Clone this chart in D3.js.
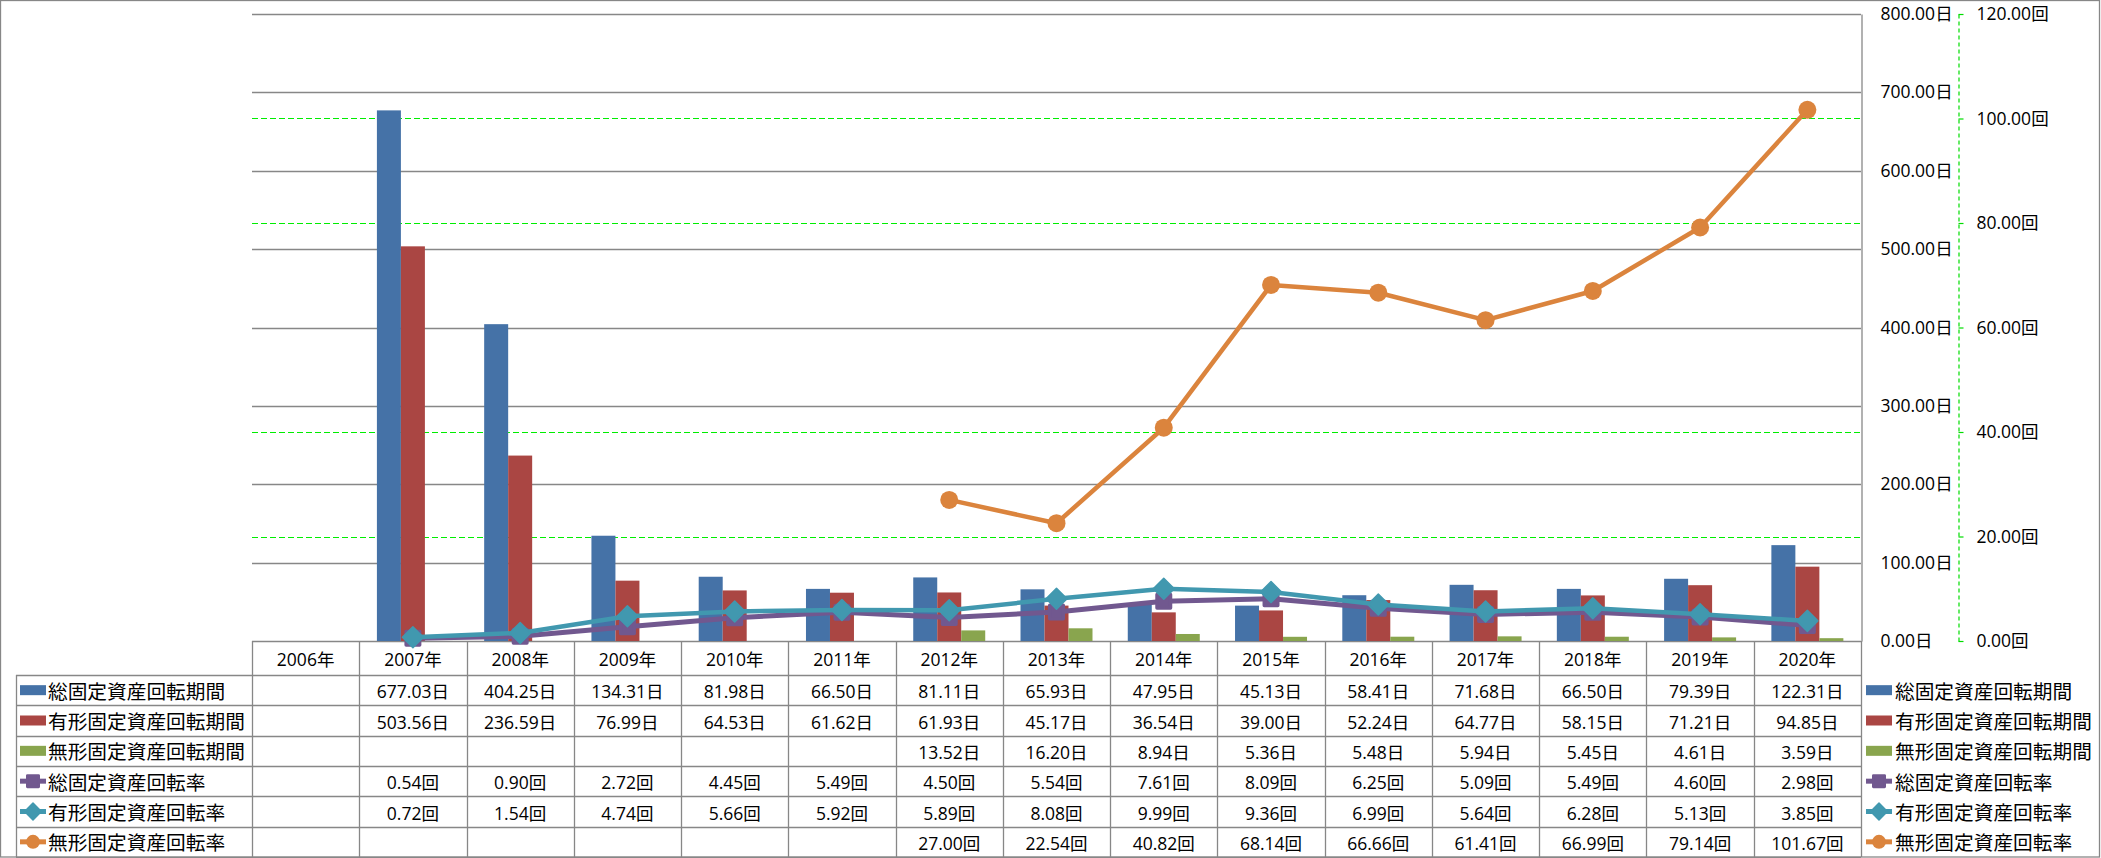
<!DOCTYPE html>
<html><head><meta charset="utf-8">
<script src="https://cdn.jsdelivr.net/npm/d3@7"></script>
<style>
body{margin:0;background:#fff;}
svg{display:block;}
text{font-family:"Open Sans","Noto Sans CJK JP",sans-serif;fill:#000;}
.cjk{font-family:"Noto Sans CJK JP",sans-serif;}
</style></head><body>
<svg id="chart" width="2101" height="858"></svg>
<script>
// ---------- data ----------
const years = ["2006年","2007年","2008年","2009年","2010年","2011年","2012年","2013年","2014年","2015年","2016年","2017年","2018年","2019年","2020年"];
const seriesNames = ["総固定資産回転期間","有形固定資産回転期間","無形固定資産回転期間","総固定資産回転率","有形固定資産回転率","無形固定資産回転率"];
const totalPeriod    = [null,677.03,404.25,134.31,81.98,66.50,81.11,65.93,47.95,45.13,58.41,71.68,66.50,79.39,122.31];
const tangiblePeriod = [null,503.56,236.59,76.99,64.53,61.62,61.93,45.17,36.54,39.00,52.24,64.77,58.15,71.21,94.85];
const intangiblePeriod=[null,null,null,null,null,null,13.52,16.20,8.94,5.36,5.48,5.94,5.45,4.61,3.59];
const totalRate      = [null,0.54,0.90,2.72,4.45,5.49,4.50,5.54,7.61,8.09,6.25,5.09,5.49,4.60,2.98];
const tangibleRate   = [null,0.72,1.54,4.74,5.66,5.92,5.89,8.08,9.99,9.36,6.99,5.64,6.28,5.13,3.85];
const intangibleRate = [null,null,null,null,null,null,27.00,22.54,40.82,68.14,66.66,61.41,66.99,79.14,101.67];
const dayTicks  = [0,100,200,300,400,500,600,700,800];
const rateTicks = [0,20,40,60,80,100,120];
const dayUnit = "日", rateUnit = "回";

// ---------- styles ----------
const colors = ["#4572A7","#AA4643","#89A54E","#71588F","#4198AF","#DB843D"];
const markers = [null,null,null,"square","diamond","circle"];
const allSeries = [totalPeriod,tangiblePeriod,intangiblePeriod,totalRate,tangibleRate,intangibleRate];
const barIdx = [0,1,2], lineIdx = [3,4,5];

const svg = d3.select("#chart");
const fmt = d3.format(".2f");
const plot = {l:252, r:1861, t:14, b:641};
const tbl = {left:16, top:675, bottom:857};
const rowH = (tbl.bottom - tbl.top)/6;
const gridGray = "#878787";

const x = d3.scaleBand().domain(years).range([plot.l, plot.r]).padding(0);
const x1 = d3.scaleBand().domain(barIdx).range([0, x.bandwidth()]).paddingInner(0).paddingOuter(0.735);
const yDays = d3.scaleLinear().domain([0,800]).range([plot.b, plot.t]);
const yRate = d3.scaleLinear().domain([0,120]).range([plot.b, plot.t]);

// outer border
svg.append("rect").attr("x",0.5).attr("y",0.5).attr("width",2099).attr("height",856.5)
  .attr("fill","none").attr("stroke",gridGray).attr("stroke-width",1.3);

// secondary gridlines (green dashed)
svg.append("g").selectAll("line").data(rateTicks.filter(d=>d>0 && d<120)).join("line")
  .attr("x1",plot.l).attr("x2",plot.r).attr("y1",d=>Math.round(yRate(d))+0.5).attr("y2",d=>Math.round(yRate(d))+0.5)
  .attr("stroke","#00ee00").attr("stroke-width",1.2).attr("stroke-dasharray","6,3");
// primary gridlines (gray)
svg.append("g").selectAll("line").data(dayTicks).join("line")
  .attr("x1",plot.l).attr("x2",plot.r).attr("y1",d=>Math.round(yDays(d))+0.5).attr("y2",d=>Math.round(yDays(d))+0.5)
  .attr("stroke",gridGray).attr("stroke-width",1.3);

// bars
barIdx.forEach(i=>{
  svg.append("g").selectAll("rect").data(years.map((y,j)=>({y, v:allSeries[i][j]})).filter(d=>d.v!=null)).join("rect")
    .attr("x",d=>x(d.y)+x1(i)).attr("width",x1.bandwidth())
    .attr("y",d=>yDays(d.v)).attr("height",d=>plot.b-yDays(d.v))
    .attr("fill",colors[i]);
});

// marker drawer
function drawMarker(g, type, color, size){
  if(type==="square"){
    const s=size*0.8;
    g.append("rect").attr("x",-s/2).attr("y",-s/2).attr("width",s).attr("height",s)
      .attr("fill",color).attr("stroke",color).attr("stroke-width",size*0.2).attr("stroke-linejoin","round");
  } else if(type==="diamond"){
    const r=size*0.6;
    g.append("path").attr("d",`M0,${-r}L${r},0L0,${r}L${-r},0Z`).attr("fill",color)
      .attr("stroke",color).attr("stroke-width",1.5).attr("stroke-linejoin","round");
  } else if(type==="circle"){
    g.append("circle").attr("r",size/2).attr("fill",color);
  }
}

// lines
const cx = d=>x(d.y)+x.bandwidth()/2;
lineIdx.forEach(i=>{
  const pts = years.map((y,j)=>({y, v:allSeries[i][j]}));
  const line = d3.line().defined(d=>d.v!=null).x(cx).y(d=>yRate(d.v));
  const g = svg.append("g");
  g.append("path").attr("d",line(pts)).attr("fill","none").attr("stroke",colors[i])
    .attr("stroke-width", i===3?5:4.5).attr("stroke-linejoin","round");
  pts.filter(d=>d.v!=null).forEach(d=>{
    const m = g.append("g").attr("transform",`translate(${cx(d)},${yRate(d.v)})`);
    drawMarker(m, markers[i], colors[i], i===3?17:(i===4?17.5:18));
  });
});

// plot right border / primary axis
const axL = d3.axisRight(yDays).tickValues(dayTicks).tickSize(0).tickPadding(19).tickFormat(d=>fmt(d)+dayUnit);
const gL = svg.append("g").attr("transform",`translate(${plot.r+0.5},0)`).call(axL);
gL.select(".domain").attr("stroke",gridGray).attr("stroke-width",1.3);
gL.selectAll("text").attr("font-size",17.5).attr("font-family",null);

// secondary axis
const axR = d3.axisRight(yRate).tickValues(rateTicks).tickSize(5).tickSizeOuter(0).tickPadding(13).tickFormat(d=>fmt(d)+rateUnit);
const gR = svg.append("g").attr("transform",`translate(1958.5,0)`).call(axR);
gR.select(".domain").attr("stroke","#00dd00").attr("stroke-width",1.2).attr("stroke-dasharray","4,3");
gR.selectAll(".tick line").attr("stroke","#00dd00").attr("stroke-width",1.2);
gR.selectAll("text").attr("font-size",17.5).attr("font-family",null);

// ---------- data table ----------
const tg = svg.append("g");
// header row text
tg.selectAll("text.yr").data(years).join("text").attr("class","yr")
  .attr("x",d=>x(d)+x.bandwidth()/2).attr("y",(plot.b+tbl.top)/2+1)
  .attr("text-anchor","middle").attr("dominant-baseline","central").attr("font-size",17.5).text(d=>d);
// vertical lines
const vx = years.map(d=>x(d)).concat([plot.r]);
tg.selectAll("line.v").data(vx).join("line").attr("class","v")
  .attr("x1",d=>Math.round(d)+0.5).attr("x2",d=>Math.round(d)+0.5).attr("y1",plot.b).attr("y2",tbl.bottom)
  .attr("stroke",gridGray).attr("stroke-width",1.3);
tg.append("line").attr("x1",tbl.left+0.5).attr("x2",tbl.left+0.5).attr("y1",tbl.top).attr("y2",tbl.bottom)
  .attr("stroke",gridGray).attr("stroke-width",1.3);
// horizontal lines
tg.selectAll("line.h").data(d3.range(7)).join("line").attr("class","h")
  .attr("x1",tbl.left).attr("x2",plot.r).attr("y1",k=>Math.round(tbl.top+k*rowH)+0.5).attr("y2",k=>Math.round(tbl.top+k*rowH)+0.5)
  .attr("stroke",gridGray).attr("stroke-width",1.3);

function legendKey(g, i, x0, cy){
  if(i<3){
    g.append("rect").attr("x",x0).attr("y",cy-5).attr("width",26).attr("height",10).attr("fill",colors[i]);
  } else {
    g.append("line").attr("x1",x0).attr("x2",x0+26).attr("y1",cy).attr("y2",cy)
      .attr("stroke",colors[i]).attr("stroke-width",5);
    const m = g.append("g").attr("transform",`translate(${x0+13},${cy})`);
    drawMarker(m, markers[i], colors[i], 14);
  }
}

allSeries.forEach((arr,i)=>{
  const cy = tbl.top + (i+0.5)*rowH;
  legendKey(tg, i, 20, cy);
  tg.append("text").attr("class","cjk").attr("x",48).attr("y",cy).attr("dominant-baseline","central")
    .attr("font-size",19.7).text(seriesNames[i]);
  const unit = i<3?dayUnit:rateUnit;
  tg.append("g").selectAll("text").data(years.map((y,j)=>({y,v:arr[j]})).filter(d=>d.v!=null)).join("text")
    .attr("x",d=>x(d.y)+x.bandwidth()/2).attr("y",cy+1).attr("text-anchor","middle").attr("dominant-baseline","central")
    .attr("font-size",17.5).text(d=>fmt(d.v)+unit);
  // right legend
  legendKey(svg, i, 1866, cy);
  svg.append("text").attr("class","cjk").attr("x",1895).attr("y",cy).attr("dominant-baseline","central")
    .attr("font-size",19.7).text(seriesNames[i]);
});
</script>
</body></html>
